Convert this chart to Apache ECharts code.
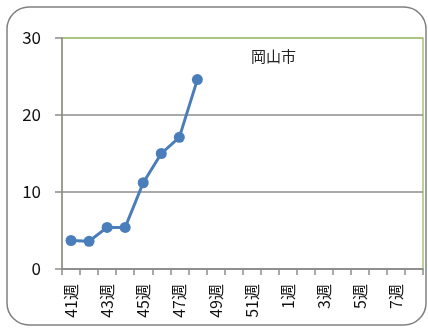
<!DOCTYPE html>
<html>
<head>
<meta charset="utf-8">
<script src="https://cdn.jsdelivr.net/npm/echarts@6/dist/echarts.min.js"></script>
<style>
  html, body { margin: 0; padding: 0; background: #fff; }
  #chart { width: 428px; height: 331px; }
</style>
</head>
<body>
<div id="chart"></div>
<script>
// Weekly counts for Okayama city, week 41 through week 8 of the next year
const weeks = ['41週','42週','43週','44週','45週','46週','47週','48週','49週','50週',
               '51週','52週','1週','2週','3週','4週','5週','6週','7週','8週'];
const values = [3.7, 3.6, 5.4, 5.4, 11.2, 15.0, 17.1, 24.6];
const yTicks = [0, 10, 20, 30];
const cityName = '岡山市';

const font = '"Noto Sans CJK JP", "Noto Sans", sans-serif';
const chart = echarts.init(document.getElementById('chart'), null, { renderer: 'canvas' });

chart.setOption({
  animation: false,
  backgroundColor: '#fff',
  grid: {
    left: 62, top: 38, right: 5, bottom: 62,
    containLabel: false,
    show: true, borderColor: '#a6c27a', borderWidth: 1.5, backgroundColor: 'transparent'
  },
  graphic: [
    { type: 'rect', shape: { x: 7, y: 7, width: 419, height: 318, r: 22 },
      style: { fill: 'none', stroke: '#808080', lineWidth: 1.5 }, z: -1 },
    { type: 'text', left: 251, top: 49, style: { text: cityName, font: '15px ' + font, fill: '#222' } }
  ],
  xAxis: {
    type: 'category',
    data: weeks,
    boundaryGap: true,
    axisLine: { lineStyle: { color: '#8c8c8c', width: 1.5 } },
    axisTick: { show: true, interval: 0, length: 6, lineStyle: { color: '#8c8c8c', width: 1.5 } },
    axisLabel: { interval: 1, rotate: 90, margin: 15, fontSize: 16, fontFamily: font, color: '#111' },
    splitLine: { show: false }
  },
  yAxis: {
    type: 'value',
    min: yTicks[0], max: yTicks[yTicks.length - 1], interval: 10,
    axisLine: { show: true, lineStyle: { color: '#8c8c8c', width: 1.5 } },
    axisTick: { show: true, length: 7, lineStyle: { color: '#8c8c8c', width: 1.5 } },
    axisLabel: { margin: 21, fontSize: 17, fontFamily: font, color: '#111' },
    splitLine: { show: true, lineStyle: { color: ['#8c8c8c', '#8c8c8c', '#8c8c8c', '#a6c27a'], width: 1.5 } }
  },
  series: [{
    type: 'line',
    data: values,
    symbol: 'circle',
    symbolSize: 11,
    lineStyle: { color: '#4a7ebb', width: 3 },
    itemStyle: { color: '#4a7ebb' }
  }]
});
</script>
</body>
</html>
